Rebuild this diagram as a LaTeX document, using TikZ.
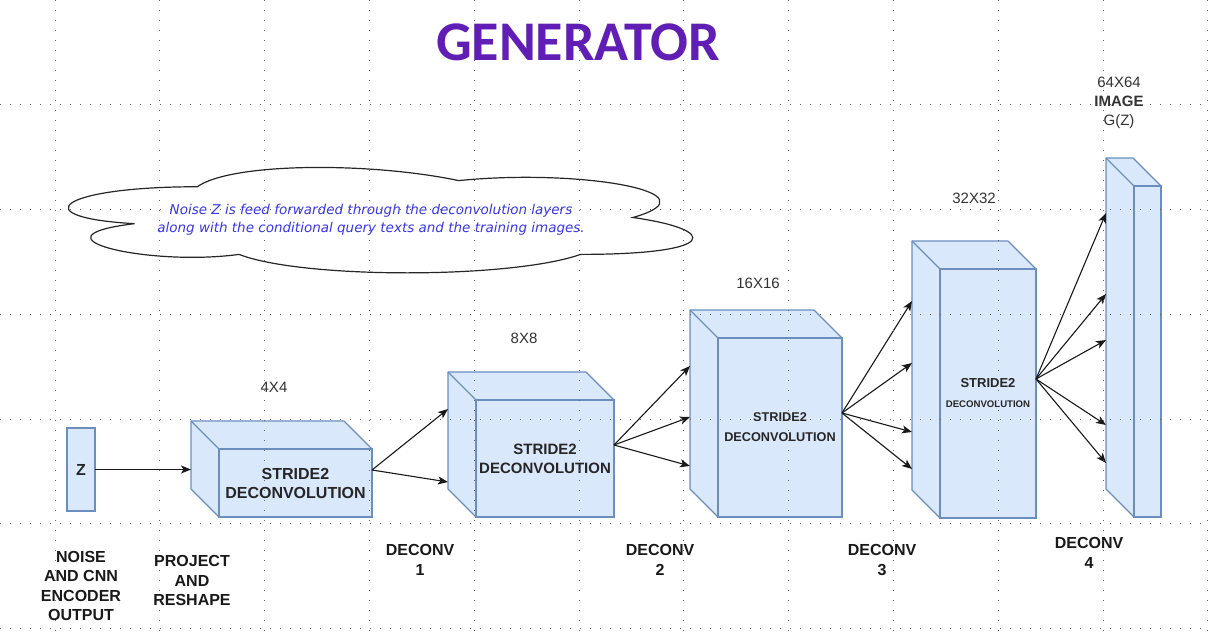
\documentclass[tikz,border=0pt]{standalone}
\usepackage{fontspec}
\setmainfont{Liberation Sans}
\newfontfamily\titlefont{Carlito}
\newfontfamily\cloudfont{DejaVu Sans}
\usetikzlibrary{arrows.meta,calc}
\definecolor{boxfill}{HTML}{DAE8FC}
\definecolor{boxline}{HTML}{6C8EBF}
\definecolor{lbl}{HTML}{333333}
\definecolor{titlec}{RGB}{96,30,180}
\definecolor{cloudtext}{RGB}{55,55,230}
\newcommand{\mkcube}[7]{%
  \node[ghost, minimum width=#4pt, minimum height=#5pt] (k#1) at (#2-28,#3-28) {};
  \path[draw=boxline, fill=boxfill, line width=1.2pt, line join=round]
    (k#1.north west) -- (k#1.north east) -- ([shift={(28,28)}]k#1.north east)
    -- ([shift={(28,28)}]k#1.south east) -- ([shift={(28,28)}]k#1.south west)
    -- (k#1.south west) -- cycle;
  \draw[boxline, line width=1.2pt] (k#1.north west) -- ([shift={(28,28)}]k#1.north west);
  \node[face, minimum width=#4pt, minimum height=#5pt, font=\bfseries#6] (f#1) at (#2,#3) {#7};
}
\begin{document}
\begin{tikzpicture}[x=1pt,y=-1pt,
  ghost/.style={inner sep=0pt, outer sep=0pt},
  face/.style={draw=boxline, fill=boxfill, line width=1.2pt, inner sep=0pt, outer sep=0pt, align=center, text=black!85},
  arr/.style={-{Stealth[length=10pt,width=8pt,inset=2.5pt]}, line width=1.1pt, black!90},
  dimlbl/.style={text=lbl, inner sep=0pt, font=\fontsize{15}{19}\selectfont, align=center},
  botlbl/.style={text=black!90, inner sep=0pt, font=\bfseries\fontsize{16}{19.5}\selectfont, align=center},
  deconvlbl/.style={text=black!90, inner sep=0pt, font=\bfseries\fontsize{16}{20}\selectfont, align=center},
  gridl/.style={black!60, line width=0.9pt, dash pattern=on 0.9pt off 9.1pt}
]
\useasboundingbox (0,0) rectangle (1210,634);
\fill[white] (0,0) rectangle (1210,634);

% title
\node[text=titlec, inner sep=0pt, font=\titlefont\bfseries\fontsize{56}{60}\selectfont] (title) at (578,42) {GENERATOR};

% cloud
\draw[black!85, line width=1.2pt, fill=white]
  (197.25,186.75) .. controls (57.85,186.75) and (23,217.5) .. (134.52,223.65)
  .. controls (23,237.18) and (148.46,266.7) .. (239.07,254.4)
  .. controls (301.8,279) and (510.9,279) .. (580.6,254.4)
  .. controls (720,254.4) and (720,229.8) .. (632.875,217.5)
  .. controls (720,192.9) and (580.6,168.3) .. (458.625,180.6)
  .. controls (371.5,162.15) and (232.1,162.15) .. (197.25,186.75) -- cycle;
\node[text=cloudtext, inner sep=0pt, align=center, font=\cloudfont\itshape\fontsize{13.5}{18}\selectfont] (cloudtxt) at (371,220)
  {Noise Z is feed forwarded through the deconvolution layers\\along with the conditional query texts and the training images.};

% Z box
\node[face, minimum width=28pt, minimum height=83pt, font=\bfseries\fontsize{16}{19}\selectfont] (z) at (81,469.5) {Z};

% cubes
\mkcube{1}{295.5}{483}{153}{68}{\fontsize{16}{19}\selectfont}{STRIDE2\\DECONVOLUTION}
\mkcube{2}{545}{458.5}{138}{117}{\fontsize{15}{19}\selectfont}{STRIDE2\\DECONVOLUTION}
\mkcube{3}{780}{427.5}{124}{179}{\fontsize{12.7}{20}\selectfont}{STRIDE2\\DECONVOLUTION}
\mkcube{4}{988}{393.5}{96}{249}{\fontsize{13}{20}\selectfont}{STRIDE2\\{\fontsize{9.6}{20}\selectfont DECONVOLUTION}}
\mkcube{5}{1147.5}{351.5}{27}{331}{}{}

% arrows
\draw[arr] (z.east) -- (k1.west |- z.east);
\draw[arr] ($(f1.north east)+(0,21)$) -- ($(k2.north west)+(0,37)$);
\draw[arr] ($(f1.north east)+(0,21)$) -- ($(k2.north west)+(0,110)$);
\foreach \d in {56,107,156}
  \draw[arr] ($(f2.north east)+(0,45)$) -- ($(k3.north west)+(0,\d)$);
\foreach \d in {60,122,191,228}
  \draw[arr] ($(f3.north east)+(0,75)$) -- ($(k4.north west)+(0,\d)$);
\foreach \d in {55,136,182,267,305}
  \draw[arr] ($(f4.north east)+(0,110)$) -- ($(k5.north west)+(0,\d)$);

% size labels
\node[dimlbl] (l4) at (274,387) {4X4};
\node[dimlbl] (l8) at (524,338) {8X8};
\node[dimlbl] (l16) at (758,283) {16X16};
\node[dimlbl] (l32) at (974,198) {32X32};
\node[dimlbl] (l64) at (1119,102.5) {64X64\\\textbf{IMAGE}\\G(Z)};

% bottom labels
\node[botlbl] (noise) at (81,586) {NOISE\\AND CNN\\ENCODER\\OUTPUT};
\node[botlbl] (proj) at (192,580.5) {PROJECT\\AND\\RESHAPE};
\node[deconvlbl] (d1) at (420,560) {DECONV\\1};
\node[deconvlbl] (d2) at (660,560) {DECONV\\2};
\node[deconvlbl] (d3) at (882,560) {DECONV\\3};
\node[deconvlbl] (d4) at (1089,553) {DECONV\\4};

% grid (drawn over everything, as in the reference)
\foreach \i in {0,...,11}
  \draw[gridl] (55+104.8*\i,0) -- (55+104.8*\i,634);
\foreach \j in {0,...,6}
  \draw[gridl] (0,628.6-104.8*\j) -- (1210,628.6-104.8*\j);
\end{tikzpicture}
\end{document}
